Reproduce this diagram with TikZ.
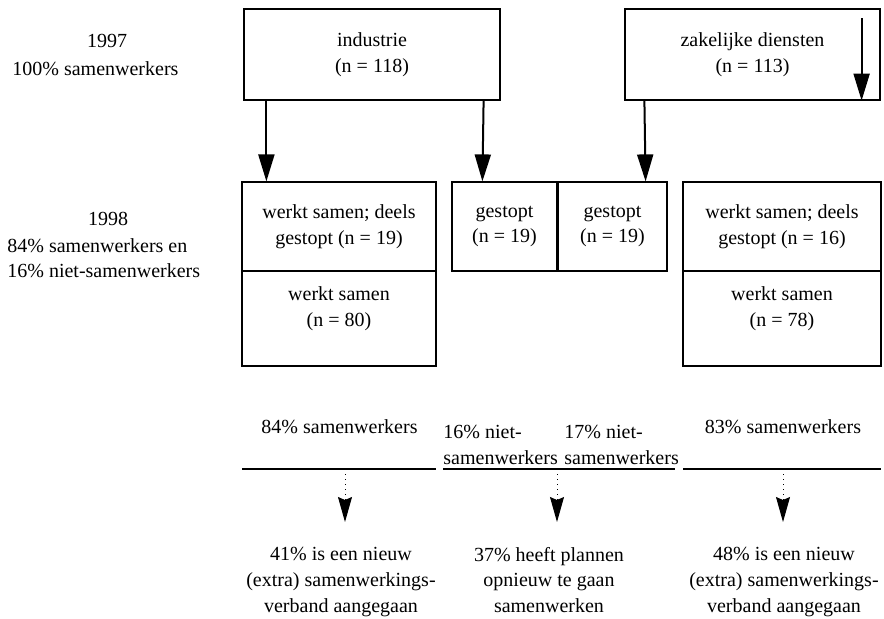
\documentclass[tikz,border=0pt]{standalone}
\usepackage{fontspec}
\setmainfont{Liberation Serif}
\usetikzlibrary{arrows.meta}

\begin{document}
\begin{tikzpicture}[x=0.5pt,y=-0.5pt,
		font=\fontsize{10pt}{12.8pt}\selectfont,
		box/.style={draw=black,line width=0.6pt,inner sep=0pt,align=center},
		txt/.style={inner sep=0pt,align=center},
		arr/.style={-{Triangle[length=13.5pt,width=8pt]},line width=1pt},
		darr/.style={dotted,line width=0.5pt,-{Stealth[length=12.5pt,width=7pt,inset=1.5pt]}},
		sep/.style={line width=1pt}]
		\useasboundingbox (0,0) rectangle (884,618);
		% jaren
		\node[txt,anchor=base] (y97) at (107,47) {1997};
		\node[txt,anchor=base west] (p97) at (12,75) {100\% samenwerkers};
		\node[txt,anchor=base] (y98) at (108,225) {1998};
		\node[txt,align=left,anchor=north west] (p98) at (7,238) {84\% samenwerkers en\\16\% niet-samenwerkers};
		% sectoren 1997
		\node[box,minimum width=128pt,minimum height=45.5pt] (ind) at (372,54.5) {industrie\\(n = 118)};
		\node[box,minimum width=127.5pt,minimum height=45.5pt] (zak) at (752.5,54.5) {zakelijke diensten\\(n = 113)};
		% 1998
		\node[box,minimum width=97pt,minimum height=44.5pt] (ind19) at (339,226.5) {werkt samen; deels\\gestopt (n = 19)};
		\node[box,minimum width=97pt,minimum height=47.5pt] (ind80) at (339,318.5) {};
		\node[txt] (t80) at ([yshift=5pt]ind80.center) {werkt samen\\(n = 80)};
		\node[box,minimum width=52.5pt,minimum height=44.5pt] (gind) at (504.5,226.5) {gestopt\\(n = 19)};
		\node[box,minimum width=54.5pt,minimum height=44.5pt] (gzak) at (612.5,226.5) {gestopt\\(n = 19)};
		\node[box,minimum width=99pt,minimum height=44.5pt] (zak16) at (782,226.5) {werkt samen; deels\\gestopt (n = 16)};
		\node[box,minimum width=99pt,minimum height=47.5pt] (zak78) at (782,318.5) {};
		\node[txt] (t78) at ([yshift=5pt]zak78.center) {werkt samen\\(n = 78)};
		\draw[arr] ([xshift=11.5pt]ind.south west) -- ([xshift=12.5pt]ind19.north west);
		\draw[arr] ([xshift=-8.5pt]ind.south east) -- ([xshift=15.5pt]gind.north west);
		\draw[arr] ([xshift=10pt]zak.south west) -- ([xshift=-11pt]gzak.north east);
		\draw[arr] ([xshift=-9.5pt,yshift=-5pt]zak.north east) -- ([xshift=-9.5pt]zak.south east);
		% percentages
		\node[txt,anchor=base] (s84) at (339.5,433) {84\% samenwerkers};
		\node[txt,align=left,anchor=north west] (n16) at (443,425) {16\% niet-\\samenwerkers};
		\node[txt,align=left,anchor=north west] (n17) at (564,425) {17\% niet-\\samenwerkers};
		\node[txt,anchor=base] (s83) at (783,433) {83\% samenwerkers};
		\coordinate (la) at (242,469);
		\coordinate (lb) at (436,469);
		\coordinate (ma) at (443,469);
		\coordinate (mb) at (675,469);
		\coordinate (ra) at (683,469);
		\coordinate (rb) at (881,469);
		\draw[sep] (la) -- (lb);
		\draw[sep] (ma) -- (mb);
		\draw[sep] (ra) -- (rb);
		% vervolg
		\coordinate (d84) at (345,474);
		\coordinate (e84) at (345,522);
		\coordinate (d37) at (557,474);
		\coordinate (e37) at (557,522);
		\coordinate (d83) at (783,474);
		\coordinate (e83) at (783,522);
		\draw[darr] (d84) -- (e84);
		\draw[darr] (d37) -- (e37);
		\draw[darr] (d83) -- (e83);
		\node[txt] (b41) at (341,582) {41\% is een nieuw\\(extra) samenwerkings-\\verband aangegaan};
		\node[txt] (b37) at (549,580) {37\% heeft plannen\\opnieuw te gaan\\samenwerken};
		\node[txt] (b48) at (784,582) {48\% is een nieuw\\(extra) samenwerkings-\\verband aangegaan};
	\end{tikzpicture}
\end{document}
